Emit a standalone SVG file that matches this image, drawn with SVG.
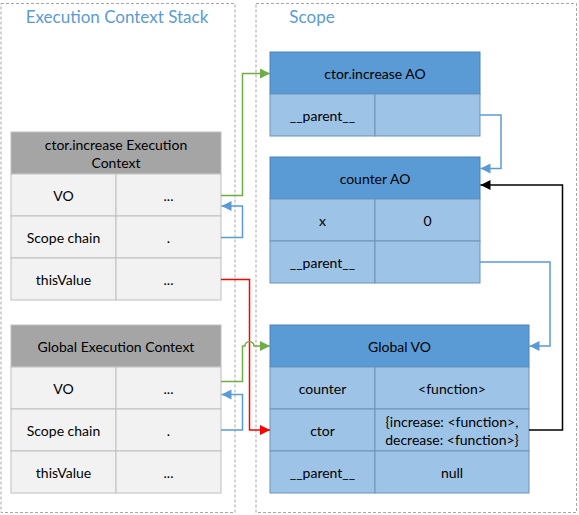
<svg xmlns="http://www.w3.org/2000/svg" width="579" height="515" viewBox="0 0 579 515">
<style>
.panel{fill:none;stroke:#a6a6a6;stroke-width:1;stroke-dasharray:3,2}
.title{font-family:Lato,"Open Sans",sans-serif;font-size:17px;fill:#5b9bd5}
.t{font-family:Lato,"Open Sans",sans-serif;font-size:14px;fill:#000;text-anchor:middle;dominant-baseline:central}
.gh{fill:#a5a5a5;stroke:#bfbfbf;stroke-width:1}
.gr{fill:#f2f2f2;stroke:#bfbfbf;stroke-width:1}
.bh{fill:#5b9bd5;stroke:#4f81bd;stroke-width:1}
.br{fill:#9dc3e6;stroke:#6f93b8;stroke-width:1}
.c{fill:none;stroke-width:1.5}
</style>
<defs>
<marker id="ag" markerUnits="userSpaceOnUse" markerWidth="12" markerHeight="12" refX="10" refY="5" orient="auto"><path d="M0,0 L10,5 L0,10 Z" fill="#70ad47"/></marker>
<marker id="ab" markerUnits="userSpaceOnUse" markerWidth="12" markerHeight="12" refX="10" refY="5" orient="auto"><path d="M0,0 L10,5 L0,10 Z" fill="#5b9bd5"/></marker>
<marker id="ar" markerUnits="userSpaceOnUse" markerWidth="12" markerHeight="12" refX="10" refY="5" orient="auto"><path d="M0,0 L10,5 L0,10 Z" fill="#ff0000"/></marker>
<marker id="ak" markerUnits="userSpaceOnUse" markerWidth="12" markerHeight="12" refX="10" refY="5" orient="auto"><path d="M0,0 L10,5 L0,10 Z" fill="#000"/></marker>
</defs>
<g id="panel-stack">
<rect class="panel" x="1" y="3.5" width="234" height="509"/>
<text class="title" x="117" y="23" text-anchor="middle">Execution Context Stack</text>
</g>
<g id="panel-scope">
<rect class="panel" x="256" y="3.5" width="320.5" height="509"/>
<text class="title" x="312" y="23" text-anchor="middle">Scope</text>
</g>
<g id="ctor-ec">
<rect class="gh" x="11" y="132" width="210" height="42"/>
<text class="t" x="116" y="144">ctor.increase Execution</text>
<text class="t" x="116" y="162">Context</text>
<rect class="gr" x="11" y="174" width="105" height="42"/><rect class="gr" x="116" y="174" width="105" height="42"/>
<rect class="gr" x="11" y="216" width="105" height="42"/><rect class="gr" x="116" y="216" width="105" height="42"/>
<rect class="gr" x="11" y="258" width="105" height="42"/><rect class="gr" x="116" y="258" width="105" height="42"/>
<text class="t" x="63.5" y="195">VO</text><text class="t" x="168.5" y="195">...</text>
<text class="t" x="63.5" y="237">Scope chain</text><text class="t" x="168.5" y="237">.</text>
<text class="t" x="63.5" y="279">thisValue</text><text class="t" x="168.5" y="279">...</text>
</g>
<g id="global-ec">
<rect class="gh" x="11" y="325" width="210" height="42"/>
<text class="t" x="116" y="346">Global Execution Context</text>
<rect class="gr" x="11" y="367" width="105" height="42"/><rect class="gr" x="116" y="367" width="105" height="42"/>
<rect class="gr" x="11" y="409" width="105" height="42"/><rect class="gr" x="116" y="409" width="105" height="42"/>
<rect class="gr" x="11" y="451" width="105" height="42"/><rect class="gr" x="116" y="451" width="105" height="42"/>
<text class="t" x="63.5" y="388">VO</text><text class="t" x="168.5" y="388">...</text>
<text class="t" x="63.5" y="430">Scope chain</text><text class="t" x="168.5" y="430">.</text>
<text class="t" x="63.5" y="472">thisValue</text><text class="t" x="168.5" y="472">...</text>
</g>
<g id="ctor-ao">
<rect class="bh" x="270" y="52" width="210" height="42"/>
<text class="t" x="375" y="73">ctor.increase AO</text>
<rect class="br" x="270" y="94" width="105" height="42"/><rect class="br" x="375" y="94" width="105" height="42"/>
<text class="t" x="322.5" y="115">__parent__</text>
</g>
<g id="counter-ao">
<rect class="bh" x="270" y="157" width="210" height="42"/>
<text class="t" x="375" y="178">counter AO</text>
<rect class="br" x="270" y="199" width="105" height="42"/><rect class="br" x="375" y="199" width="105" height="42"/>
<rect class="br" x="270" y="241" width="105" height="42"/><rect class="br" x="375" y="241" width="105" height="42"/>
<text class="t" x="322.5" y="220">x</text><text class="t" x="427.5" y="220">0</text>
<text class="t" x="322.5" y="262">__parent__</text>
</g>
<g id="global-vo">
<rect class="bh" x="270" y="325" width="259" height="42"/>
<text class="t" x="399.5" y="346">Global VO</text>
<rect class="br" x="270" y="367" width="105" height="42"/><rect class="br" x="375" y="367" width="154" height="42"/>
<rect class="br" x="270" y="409" width="105" height="42"/><rect class="br" x="375" y="409" width="154" height="42"/>
<rect class="br" x="270" y="451" width="105" height="42"/><rect class="br" x="375" y="451" width="154" height="42"/>
<text class="t" x="322.5" y="388">counter</text><text class="t" x="452" y="388">&lt;function&gt;</text>
<text class="t" x="322.5" y="430">ctor</text>
<text class="t" x="452" y="421">{increase: &lt;function&gt;,</text>
<text class="t" x="452" y="439.5">decrease: &lt;function&gt;}</text>
<text class="t" x="322.5" y="472">__parent__</text><text class="t" x="452" y="472">null</text>
</g>
<g id="connectors">
<path class="c" stroke="#70ad47" d="M221,195.5 H242.5 V73.5 H270" marker-end="url(#ag)"/>
<path class="c" stroke="#5b9bd5" d="M221,237.5 H242.5 V206 H221.5" marker-end="url(#ab)"/>
<path class="c" stroke="#ff0000" d="M221,279.5 H249.5 V430 H270" marker-end="url(#ar)"/>
<path class="c" stroke="#70ad47" d="M221,381.5 H242.5 V346 H245 A4.5,4.5 0 0 1 254,346 H270" marker-end="url(#ag)"/>
<path class="c" stroke="#5b9bd5" d="M221,430 H242.5 V394.5 H221.5" marker-end="url(#ab)"/>
<path class="c" stroke="#5b9bd5" d="M480,115 H501 V168.5 H480.5" marker-end="url(#ab)"/>
<path class="c" stroke="#000" d="M529,430 H562.5 V185 H480.5" marker-end="url(#ak)"/>
<path class="c" stroke="#5b9bd5" d="M480,262 H550 V346 H529.5" marker-end="url(#ab)"/>
</g>
</svg>
